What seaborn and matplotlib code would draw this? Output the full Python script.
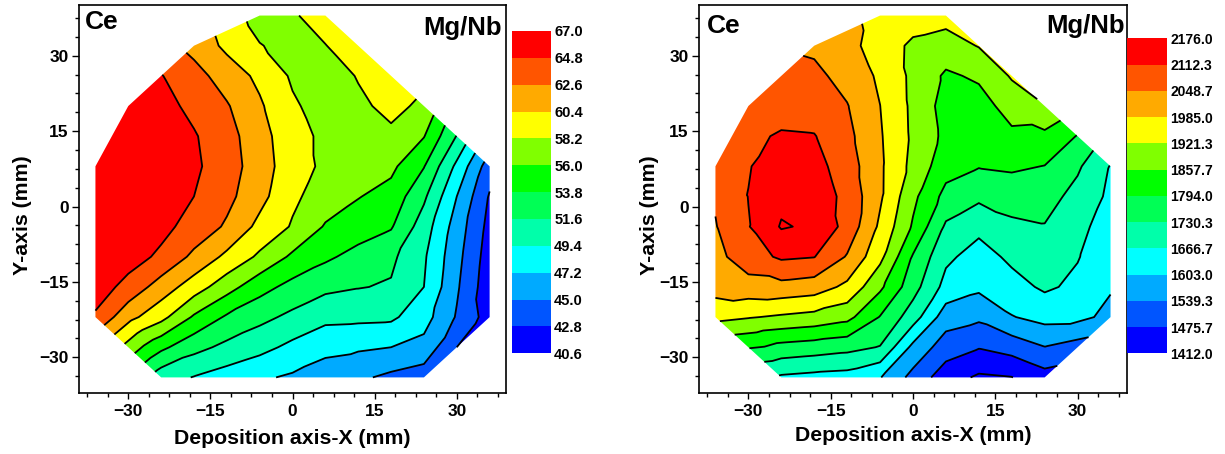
import numpy as np
import matplotlib
matplotlib.use("Agg")
import matplotlib.pyplot as plt
import matplotlib.tri as mtri
from matplotlib.colors import ListedColormap, BoundaryNorm
from matplotlib.cm import ScalarMappable
from matplotlib.ticker import MultipleLocator
import seaborn as sns

nan = np.nan

# Measurement grid on the sample (mm)
x_mm = [-36, -30, -24, -18, -12, -6, 0, 6, 12, 18, 24, 30, 36]
y_mm = [38, 32, 26, 20, 14, 8, 2, -4, -10, -16, -22, -28, -34]

# Mg/Nb ratio maps, one row per y_mm value (nan = outside the deposited area)
mgnb_left = [
    [nan, nan, nan, nan, nan, 57.3, 58.0, 59.0, nan, nan, nan, nan, nan],
    [nan, nan, nan, 61.9, 59.9, 58.3, 57.5, 58.15, 59.2, nan, nan, nan, nan],
    [nan, nan, 64.9, 63.4, 61.6, 59.9, 57.9, 57.4, 58.3, 59.2, nan, nan, nan],
    [nan, 66.0, 65.6, 64.2, 62.8, 60.7, 58.5, 57.3, 57.9, 58.6, 57.9, nan, nan],
    [nan, 66.5, 66.0, 65.0, 63.4, 61.3, 58.9, 57.8, 57.6, 57.9, 56.1, 51.5, nan],
    [66.9, 66.6, 66.0, 65.2, 63.6, 61.5, 59.1, 57.8, 57.2, 56.5, 53.9, 48.9, 43.8],
    [66.9, 66.5, 65.8, 64.8, 63.2, 61.1, 58.6, 57.2, 56.1, 55.2, 52.0, 47.2, 42.6],
    [66.8, 66.2, 65.4, 64.0, 62.3, 59.8, 58.0, 55.8, 54.9, 54.0, 50.5, 46.2, 42.1],
    [66.4, 65.7, 64.4, 62.1, 59.9, 57.8, 55.6, 54.2, 53.05, 52.05, 49.7, 45.7, 41.7],
    [65.9, 64.1, 61.6, 59.3, 56.9, 54.6, 53.1, 52.1, 51.7, 51.4, 49.4, 45.3, 41.4],
    [64.5, 61.1, 58.9, 55.7, 53.5, 52.2, 51.1, 50.0, 49.9, 49.8, 48.1, 44.8, 41.8],
    [nan, nan, 54.3, 52.3, 51.05, 50.1, 48.85, 47.75, 47.5, 47.2, 46.5, nan, nan],
    [nan, nan, 50.3, 49.3, 48.4, 47.5, 46.9, 46.2, 45.4, 44.5, 43.8, nan, nan],
]

mgnb_right = [
    [nan, nan, nan, nan, nan, 1965.9, 1953.2, 1943.6, nan, nan, nan, nan, nan],
    [nan, nan, nan, 2035.9, 2004.1, 1957.6, 1908.6, 1893.9, 1924.5, nan, nan, nan, nan],
    [nan, nan, 2074.1, 2064.6, 2025.7, 1974.8, 1907.3, 1848.1, 1867.2, 1927.7, nan, nan, nan],
    [nan, 2096.4, 2086.9, 2080.5, 2051.9, 1985.5, 1908.6, 1832.2, 1832.2, 1883.1, 1919.4, nan, nan],
    [nan, 2099.6, 2118.7, 2115.5, 2065.9, 1991.4, 1910.5, 1841.8, 1832.2, 1844.9, 1841.8, 1790.8, nan],
    [2086.9, 2109.2, 2141.0, 2134.6, 2080.5, 1995.2, 1902.9, 1819.5, 1797.2, 1803.5, 1792.5, 1739.9, 1663.5],
    [2055.0, 2113.5, 2160.1, 2150.5, 2094.5, 1994.5, 1872.9, 1773.6, 1743.7, 1757.7, 1755.8, 1709.3, 1653.9],
    [2045.5, 2109.2, 2181.1, 2166.5, 2091.3, 1973.5, 1850.0, 1720.8, 1682.6, 1717.6, 1727.2, 1685.8, 1634.8],
    [2029.6, 2084.3, 2121.9, 2114.2, 2043.6, 1938.5, 1788.3, 1679.4, 1641.2, 1679.4, 1695.3, 1669.9, 1628.5],
    [2010.5, 2023.2, 2028.3, 2016.8, 1970.4, 1870.4, 1755.2, 1645.7, 1615.7, 1644.4, 1676.2, 1653.9, 1609.4],
    [1940.4, 1925.8, 1912.4, 1900.3, 1876.8, 1790.8, 1697.2, 1568.6, 1551.4, 1599.8, 1624.0, 1622.1, 1583.9],
    [nan, nan, 1773.0, 1762.2, 1749.4, 1727.2, 1585.8, 1506.9, 1479.5, 1501.1, 1537.4, nan, nan],
    [nan, nan, 1657.1, 1647.6, 1641.2, 1606.2, 1519.0, 1440.7, 1402.4, 1410.5, 1450.2, nan, nan],
]

# Contour levels (also the colour-bar tick labels)
levels_left = [40.6, 42.8, 45.0, 47.2, 49.4, 51.6, 53.8, 56.0, 58.2, 60.4, 62.6, 64.8, 67.0]
levels_right = [1412.0, 1475.7, 1539.3, 1603.0, 1666.7, 1730.3, 1794.0,
                1857.7, 1921.3, 1985.0, 2048.7, 2112.3, 2176.0]

# Rainbow bands, lowest to highest
band_colors = ["#0000FF", "#0055FF", "#00AAFF", "#00FFFF", "#00FFAA", "#00FF55",
               "#00FF00", "#80FF00", "#FFFF00", "#FFAA00", "#FF5500", "#FF0000"]

sns.set_style("ticks")
plt.rcParams.update({
    "font.family": ["Liberation Sans", "DejaVu Sans"],
    "font.weight": "bold",
    "axes.labelweight": "bold",
    "axes.linewidth": 1.2,
    "axes.edgecolor": "black",
    "axes.labelcolor": "black",
    "text.color": "black",
    "xtick.color": "black",
    "ytick.color": "black",
    "xtick.direction": "out",
    "ytick.direction": "out",
    "xtick.major.size": 4.5,
    "ytick.major.size": 5.0,
    "xtick.minor.size": 2.6,
    "ytick.minor.size": 2.9,
    "xtick.major.width": 1.0,
    "ytick.major.width": 1.0,
    "xtick.minor.width": 1.0,
    "ytick.minor.width": 1.0,
    "axes.unicode_minus": True,
})


def build_triangulation(grid):
    """Triangulate the valid grid points; each complete grid cell is split
    along the diagonal whose end values agree best, the rim is closed by
    the Delaunay triangles of the convex hull."""
    X, Y = np.meshgrid(x_mm, y_mm)
    Z = np.array(grid, dtype=float)
    ok = np.isfinite(Z)
    px, py, pz = X[ok], Y[ok], Z[ok]
    idx = {(int(a), int(b)): k for k, (a, b) in enumerate(zip(px, py))}
    step_x = abs(x_mm[1] - x_mm[0])
    step_y = abs(y_mm[1] - y_mm[0])

    full = {}
    for i in range(len(x_mm) - 1):
        for j in range(len(y_mm) - 1):
            x0, x1 = x_mm[i], x_mm[i + 1]
            y0, y1 = y_mm[j + 1], y_mm[j]
            corners = [(x0, y0), (x1, y0), (x1, y1), (x0, y1)]
            if all(c in idx for c in corners):
                full[(x0, y0)] = [idx[c] for c in corners]

    base = mtri.Triangulation(px, py)
    tris = []
    for t in base.triangles:
        tx, ty = px[t], py[t]
        in_cell = (tx.max() - tx.min() == step_x and ty.max() - ty.min() == step_y
                   and (int(tx.min()), int(ty.min())) in full)
        if not in_cell:
            tris.append(list(t))
    for a, b, c, d in full.values():
        if abs(pz[a] - pz[c]) <= abs(pz[b] - pz[d]):
            tris += [[a, b, c], [a, c, d]]
        else:
            tris += [[a, b, d], [b, c, d]]
    return mtri.Triangulation(px, py, np.array(tris)), pz


fig = plt.figure(figsize=(12.25, 4.54), dpi=100)


def draw_panel(ax, cax, grid, levels, cbar_fontsize, ce_pos, mg_pos, ylabel_x, xlabel_y):
    tri, z = build_triangulation(grid)

    # first/last band also cover anything just outside the labelled range
    fill_levels = ([min(z.min(), levels[0]) - 1.0] + list(levels[1:-1])
                   + [max(z.max(), levels[-1]) + 1.0])
    ax.tricontourf(tri, z, levels=fill_levels, colors=band_colors, antialiased=True)
    ax.tricontour(tri, z, levels=levels, colors="black", linewidths=1.3)

    ax.set_xlim(-39, 39)
    ax.set_ylim(-37.1, 40.1)
    for axis in (ax.xaxis, ax.yaxis):
        axis.set_major_locator(MultipleLocator(15))
        axis.set_minor_locator(MultipleLocator(3.75))
    ax.tick_params(axis="both", which="major", labelsize=12.5)
    ax.tick_params(axis="x", which="major", pad=3.5)
    ax.tick_params(axis="y", which="major", pad=2.5)

    ax.set_xlabel("Deposition axis-X (mm)", fontsize=15.3)
    ax.set_ylabel("Y-axis (mm)", fontsize=15.3)
    ax.xaxis.set_label_coords(0.5, xlabel_y)
    ax.yaxis.set_label_coords(ylabel_x, 0.459)

    ax.text(ce_pos[0], ce_pos[1], "Ce", transform=ax.transAxes, ha="left",
            va="baseline", fontsize=19, fontweight="bold")
    ax.text(mg_pos[0], mg_pos[1], "Mg/Nb", transform=ax.transAxes, ha="right",
            va="baseline", fontsize=18.5, fontweight="bold")

    cmap = ListedColormap(band_colors)
    norm = BoundaryNorm(levels, cmap.N)
    cb = fig.colorbar(ScalarMappable(norm=norm, cmap=cmap), cax=cax, ticks=levels)
    cb.outline.set_visible(False)
    cax.tick_params(length=0, pad=2.5, labelsize=cbar_fontsize)
    cb.set_ticklabels([f"{v:.1f}" for v in levels])
    for t in cax.get_yticklabels():
        t.set_fontweight("bold")


ax_l = fig.add_axes([0.0645, 0.1344, 0.3486, 0.8546])
cax_l = fig.add_axes([0.4177, 0.2218, 0.0318, 0.7100])
ax_r = fig.add_axes([0.5706, 0.1344, 0.3494, 0.8546])
cax_r = fig.add_axes([0.9202, 0.2218, 0.0322, 0.6938])

draw_panel(ax_l, cax_l, mgnb_left, levels_left, 10.5,
           ce_pos=(0.014, 0.937), mg_pos=(0.991, 0.923), ylabel_x=-0.110, xlabel_y=-0.093)
draw_panel(ax_r, cax_r, mgnb_right, levels_right, 10.0,
           ce_pos=(0.018, 0.927), mg_pos=(0.994, 0.927), ylabel_x=-0.093, xlabel_y=-0.085)

fig.savefig("out.png", dpi=100)
